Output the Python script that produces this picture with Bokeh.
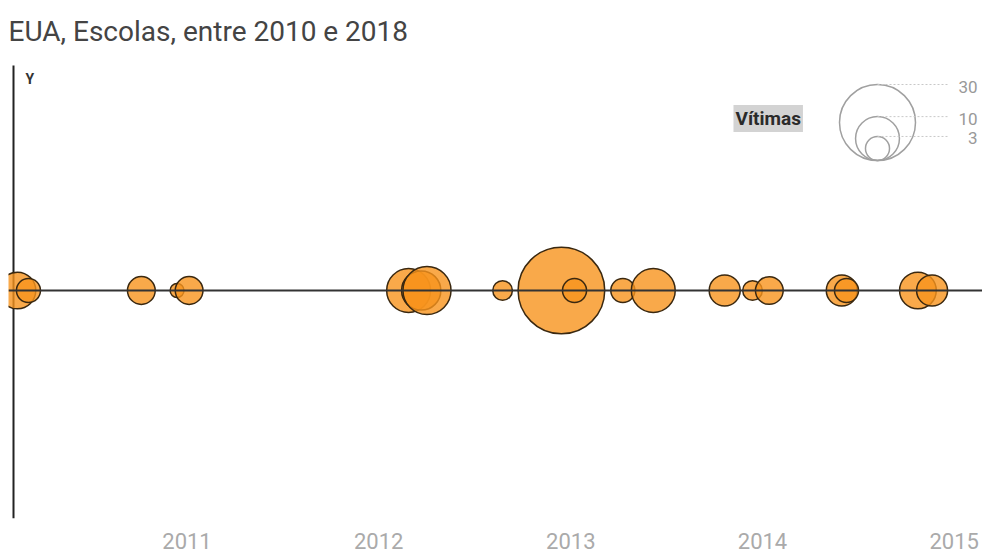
import math
from datetime import datetime
import pandas as pd
from bokeh.plotting import figure
from bokeh.models import (Range1d, Span, Label, FixedTicker, DatetimeTickFormatter,
                          ColumnDataSource)
from bokeh.embed import file_html
from bokeh.resources import INLINE

# ---------------- data ----------------
TITLE = "EUA, Escolas, entre 2010 e 2018"
dates = ["2010-02-12", "2010-03-05", "2010-10-06", "2010-12-13", "2011-01-05",
         "2012-02-27", "2012-03-22", "2012-04-02", "2012-08-24", "2012-12-14",
         "2013-01-08", "2013-04-10", "2013-06-07", "2013-10-21", "2013-12-13",
         "2014-01-14", "2014-06-01", "2014-06-10", "2014-10-24", "2014-11-20"]
victims = [7, 3, 4, 1, 4,
           10, 8, 12, 2, 39,
           3, 3, 10, 5, 2,
           4, 5, 3, 7, 5]
tick_years = [2011, 2012, 2013, 2014, 2015]
legend_title = "Vítimas"
legend_values = [30, 10, 3]
legend_labels = ["30", "10", "3"]

# ---------------- layout / scale ----------------
W, H = 982, 552
MB_LEFT, MB_RIGHT, MB_TOP, MB_BOTTOM = 8, 0, 0, 34
FW = W - MB_LEFT - MB_RIGHT          # frame width  (px)
FH = H - MB_TOP - MB_BOTTOM          # frame height (px), frame spans whole top
AXIS_TOP = FH - 65                   # top of the vertical axis line (px from bottom)
ZERO_FROM_BOTTOM = FH - 290          # where the baseline sits
R_REF, V_REF = 38.0, 30.0


def size_of(v):
    return 2 * R_REF * math.sqrt(v / V_REF)


x_start = datetime(2010, 1, 26)
x_end = datetime(2015, 2, 24)

p = figure(width=W, height=H, output_backend="svg", toolbar_location=None,
           x_axis_type="datetime", y_axis_location=None,
           x_range=Range1d(x_start, x_end),
           y_range=Range1d(-ZERO_FROM_BOTTOM, FH - ZERO_FROM_BOTTOM),
           min_border_left=MB_LEFT, min_border_right=MB_RIGHT,
           min_border_top=MB_TOP, min_border_bottom=MB_BOTTOM)
p.extra_x_ranges = {"px": Range1d(0, FW)}
p.extra_y_ranges = {"px": Range1d(0, FH)}
p.outline_line_color = None
p.xgrid.visible = False
p.ygrid.visible = False
p.background_fill_color = "white"
p.border_fill_color = "white"

# title
p.add_layout(Label(x=0, y=FH - 31, x_range_name="px", y_range_name="px", text=TITLE,
                   text_font="Roboto", text_font_size="28px", text_color="#444444",
                   text_align="left", text_baseline="alphabetic"))

ax = p.xaxis[0]
ax.ticker = FixedTicker(ticks=[datetime(y, 1, 1).timestamp() * 1000 for y in tick_years])
ax.formatter = DatetimeTickFormatter(years="%Y", months="%Y", days="%Y", hours="%Y",
                                     hourmin="%Y", minutes="%Y", minsec="%Y",
                                     seconds="%Y", milliseconds="%Y", microseconds="%Y")
ax.axis_line_color = None
ax.major_tick_line_color = None
ax.minor_tick_line_color = None
ax.major_label_text_font = "Roboto"
ax.major_label_text_font_size = "22px"
ax.major_label_text_color = "#aaaaaa"
ax.major_label_standoff = 8

# zero line and vertical axis line
p.add_layout(Span(location=0, dimension="width", line_color="#333333", line_width=2))
p.segment(x0=[5], y0=[0], x1=[5], y1=[AXIS_TOP], line_color="#222222", line_width=2,
          x_range_name="px", y_range_name="px")
p.add_layout(Label(x=17, y=AXIS_TOP - 5, x_range_name="px", y_range_name="px", text="Y",
                   text_font="Roboto", text_font_size="14px", text_font_style="bold",
                   text_color="#333333", text_baseline="top"))

# bubbles
src = ColumnDataSource(dict(date=pd.to_datetime(dates), y=[0] * len(dates),
                            size=[size_of(v) for v in victims], v=victims))
p.scatter(x="date", y="y", size="size", source=src, marker="circle",
          fill_color="#f7941d", fill_alpha=0.8, line_color="#3a2810", line_width=1.5)

# size legend
LEG_CX, LEG_BOTTOM, LINE_END, LABEL_RIGHT = 869, FH - 160, 939, 969
radii = [size_of(v) / 2 for v in legend_values]
leg = ColumnDataSource(dict(x=[LEG_CX] * len(legend_values),
                            y=[LEG_BOTTOM + r for r in radii],
                            size=[size_of(v) for v in legend_values]))
p.scatter(x="x", y="y", size="size", source=leg, marker="circle", fill_color=None,
          line_color="#a0a0a0", line_width=1.5, x_range_name="px", y_range_name="px")
tops = [LEG_BOTTOM + 2 * r for r in radii]
p.segment(x0=[LEG_CX] * len(tops), y0=tops, x1=[LINE_END] * len(tops), y1=tops,
          line_color="#c8c8c8", line_width=1, line_dash="2 2",
          x_range_name="px", y_range_name="px")
for t, lab in zip(tops, legend_labels):
    p.add_layout(Label(x=LABEL_RIGHT, y=t - 2, x_range_name="px", y_range_name="px",
                       text=lab, text_align="right", text_baseline="middle",
                       text_font="Roboto", text_font_size="17px", text_color="#999999"))
p.add_layout(Label(x=725, y=FH - 118, x_range_name="px", y_range_name="px",
                   text=legend_title, text_align="left", text_baseline="middle",
                   text_font="Roboto", text_font_size="19px", text_font_style="bold",
                   text_color="#2a2a2a", background_fill_color="#b5b5b5",
                   background_fill_alpha=0.6, padding=2))

open("out.html", "w").write(file_html(p, INLINE))
